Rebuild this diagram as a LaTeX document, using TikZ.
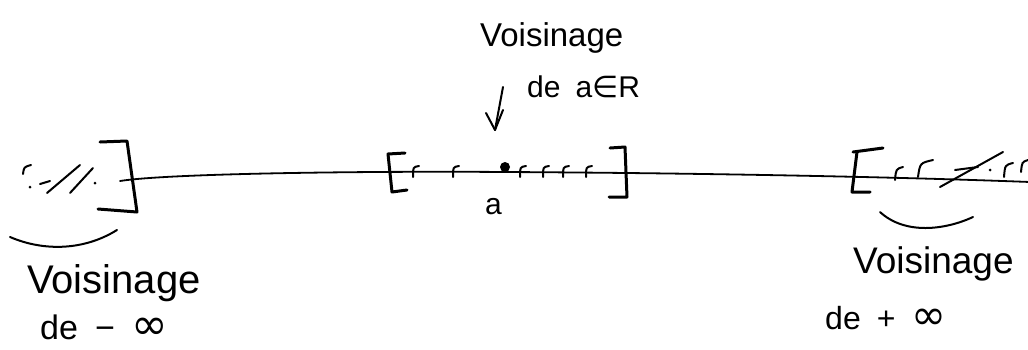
\documentclass[tikz,border=0pt]{standalone}
\usepackage{fontspec}
\setmainfont{Liberation Sans}
\newfontfamily\symfnt{DejaVu Sans}
\begin{document}
\begin{tikzpicture}[x=1pt,y=-1pt,
  pen/.style={line width=3pt,line cap=round,line join=round},
  hatch/.style={line width=2pt,line cap=round},
  axis/.style={line width=1.8pt,line cap=round},
  label/.style={anchor=west,inner sep=0pt}]
\useasboundingbox (0,0) rectangle (1028,349);
% main line
\coordinate (L0) at (120,181);
\coordinate (Lm) at (505,172);
\coordinate (Le) at (1030,182);
\draw[axis] (L0) .. controls (170,173) and (380,171) .. (Lm) .. controls (700,173) and (900,177) .. (Le);
% left bracket
\draw[pen] (100,142) -- (127,141) -- (137,212) -- (98,209);
% left hatching
\draw[hatch] (31,165) .. controls (24,167) .. (23,174);
\fill (30,187) circle (1.5);
\draw[hatch] (40,184) -- (50,181);
\draw[hatch] (47,193) -- (80,165);
\draw[hatch] (70,193) -- (93,168);
\fill (95,183) circle (1.5);
% left under-curve
\draw[hatch] (10,237) .. controls (45,252) and (85,250) .. (117,230);
% centre brackets
\draw[pen] (405,153) -- (388,154) -- (392,192) -- (407,190);
\draw[pen] (610,148) -- (625,147) -- (627,197) -- (609,197);
\fill (505,167) circle (5);
\foreach \x in {413,453,520,543,563,586}{
  \draw[hatch] (\x+6,166) .. controls (\x,167) .. (\x,177);
}
\node[label,font=\fontsize{30}{30}\selectfont] (a) at (485,207) {a};
% arrow
\coordinate (Atop) at (503,87);
\coordinate (Atip) at (495,130);
\draw[hatch] (Atop) -- (Atip);
\draw[hatch,line join=round] (486,113) -- (Atip) -- (503,110);
% right bracket
\draw[pen] (883,148) -- (853,152);
\draw[pen] (857,152) -- (852,192) -- (870,192);
% right hatching
\draw[hatch] (903,167) .. controls (896,169) .. (895,180);
\draw[hatch] (933,160) .. controls (920,163) .. (918,177);
\draw[hatch] (940,187) -- (1003,152);
\draw[hatch] (955,170) -- (978,167);
\fill (990,170) circle (1.5);
\draw[hatch] (1013,163) .. controls (1005,165) .. (1004,177);
\draw[hatch] (1028,160) .. controls (1022,162) .. (1021,172);
% right under-curve
\draw[hatch] (880,212) .. controls (905,235) and (945,230) .. (973,217);
% texts
\node[label,font=\fontsize{40}{40}\selectfont] (tl1) at (27,283) {Voisinage};
\node[label,font=\fontsize{34}{34}\selectfont] (tl2) at (40,327) {de\enspace −\enspace{\symfnt\fontsize{44}{44}\selectfont ∞}};
\node[label,font=\fontsize{33}{33}\selectfont] (tc1) at (480,38) {Voisinage};
\node[label,font=\fontsize{30}{30}\selectfont] (tc2) at (527,87) {de\enspace a{\symfnt ∈}R};
\node[label,font=\fontsize{37}{37}\selectfont] (tr1) at (853,264) {Voisinage};
\node[label,font=\fontsize{32}{32}\selectfont] (tr2) at (825,318) {de\enspace +\enspace{\symfnt\fontsize{42}{42}\selectfont ∞}};
\end{tikzpicture}
\end{document}
